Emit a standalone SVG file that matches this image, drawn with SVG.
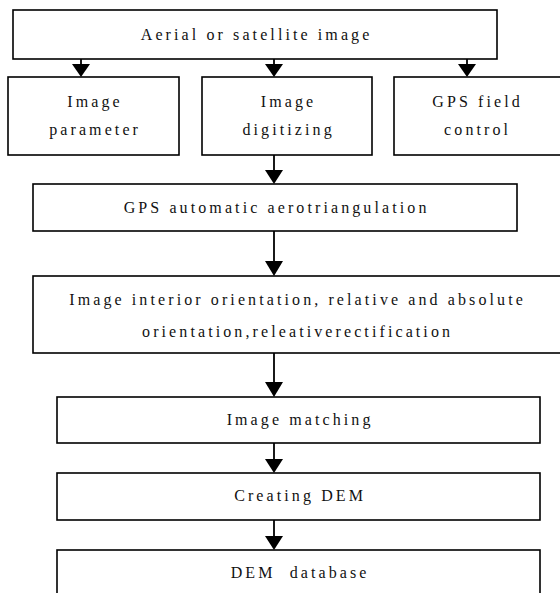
<svg xmlns="http://www.w3.org/2000/svg" width="560" height="593" viewBox="0 0 560 593">
<defs>
<style>
rect.box{fill:#fff;stroke:#000;stroke-width:1.6}
.t text{font-size:16px;letter-spacing:3.1px;text-anchor:middle;fill:#111}
line.conn{stroke:#000;stroke-width:1.8}
polygon.head{fill:#000}
</style>
</defs>
<rect width="560" height="593" fill="#fff"/>
<g id="connectors">
<line class="conn" x1="81" y1="59" x2="81" y2="66"/><polygon class="head" points="72,64 90,64 81,77"/>
<line class="conn" x1="274" y1="59" x2="274" y2="66"/><polygon class="head" points="265,64 283,64 274,77"/>
<line class="conn" x1="467" y1="59" x2="467" y2="66"/><polygon class="head" points="458,64 476,64 467,77"/>
<line class="conn" x1="274" y1="155" x2="274" y2="172"/><polygon class="head" points="265,170 283,170 274,184"/>
<line class="conn" x1="274" y1="231" x2="274" y2="264"/><polygon class="head" points="265,261 283,261 274,276"/>
<line class="conn" x1="274" y1="353" x2="274" y2="385"/><polygon class="head" points="265,382 283,382 274,397"/>
<line class="conn" x1="274" y1="443" x2="274" y2="461"/><polygon class="head" points="265,459 283,459 274,473"/>
<line class="conn" x1="274" y1="520" x2="274" y2="538"/><polygon class="head" points="265,536 283,536 274,550"/>
</g>
<g class="t" font-family="'Liberation Serif', 'DejaVu Serif', serif">
<g id="n_aerial"><rect class="box" x="13" y="10" width="484" height="49"/><text x="256.6" y="40">Aerial or satellite image</text></g>
<g id="n_param"><rect class="box" x="8" y="77" width="171" height="78"/><text x="95.1" y="107">Image</text><text x="95.1" y="135">parameter</text></g>
<g id="n_digit"><rect class="box" x="202" y="77" width="170" height="78"/><text x="288.6" y="107">Image</text><text x="288.6" y="135">digitizing</text></g>
<g id="n_gpsfield"><rect class="box" x="394" y="77" width="170" height="78"/><text x="477.6" y="107">GPS field</text><text x="477.6" y="135">control</text></g>
<g id="n_aero"><rect class="box" x="33" y="184" width="484" height="47"/><text x="276.6" y="213">GPS automatic aerotriangulation</text></g>
<g id="n_orient"><rect class="box" x="33" y="276" width="532" height="77"/><text x="297.6" y="305">Image interior orientation, relative and absolute</text><text x="297.6" y="337">orientation,releativerectification</text></g>
<g id="n_match"><rect class="box" x="57" y="397" width="483" height="46"/><text x="300.1" y="425">Image matching</text></g>
<g id="n_dem"><rect class="box" x="57" y="473" width="483" height="47"/><text x="300.1" y="501">Creating DEM</text></g>
<g id="n_db"><rect class="box" x="57" y="550" width="483" height="60"/><text x="300.1" y="578" xml:space="preserve">DEM  database</text></g>
</g>
</svg>
